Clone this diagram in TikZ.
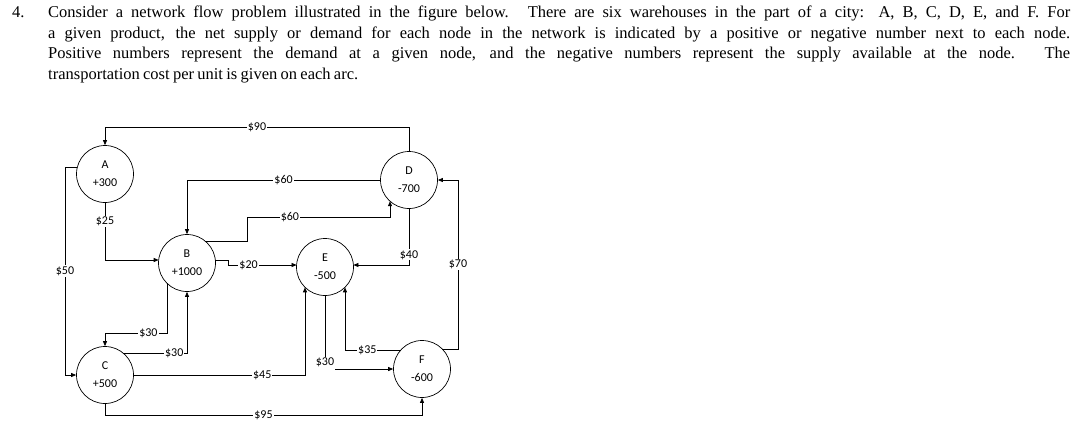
\documentclass[tikz,border=0pt]{standalone}
\usepackage{fontspec}
\setmainfont{Liberation Serif}
\newfontfamily\lab{Carlito}
\usetikzlibrary{arrows.meta}
\begin{document}
\begin{tikzpicture}[x=1pt,y=-1pt,
  nd/.style={circle,draw,line width=0.7pt,minimum size=57pt,inner sep=0pt,align=center,font=\lab\fontsize{12}{18}\selectfont},
  ed/.style={draw,line width=0.7pt,-{Triangle[length=5pt,width=4pt]}},
  lb/.style={fill=white,inner sep=1pt,font=\lab\fontsize{12}{14}\selectfont}]
\useasboundingbox (0,0) rectangle (1086,437);
\node[anchor=north west,inner sep=0pt] (num) at (12,6) {\fontsize{16.5}{20.5}\selectfont 4.};
\node[anchor=north west,inner sep=0pt,text width=1022pt,align=justify] (txt) at (48,6) {\fontsize{16.5}{20.5}\selectfont\spaceskip=0.2em plus 1em minus 0.1em
Consider a network flow problem illustrated in the figure below. There are six warehouses in the part of a city: A, B, C, D, E, and F. For\linebreak
a given product, the net supply or demand for each node in the network is indicated by a positive or negative number next to each node.\linebreak
Positive numbers represent the demand at a given node, and the negative numbers represent the supply available at the node. The\linebreak
transportation cost per unit is given on each arc.\par};
\node[nd] (A) at (105,174) {A\\+300};
\node[nd] (B) at (187,263) {B\\+1000};
\node[nd] (C) at (105,375) {C\\+500};
\node[nd] (D) at (409,180) {D\\-700};
\node[nd] (E) at (325,267) {E\\-500};
\node[nd] (F) at (422,369) {F\\-600};
% D->A 90
\draw[ed] (D.north) -- (409,127) -- node[lb]{\$90} (105,127) -- (A.north);
% A->C 50
\draw[ed] ([shift={(-27.6,-7)}]A.center) -- (65,167) -- node[lb]{\$50} (65,375) -- (C.west);
% A->B 25
\draw[ed] (A.south) -- node[lb,pos=0.33]{\$25} (105,260) -- ([shift={(-28.3,-3)}]B.center);
% D->B 60
\draw[ed] (D.west) -- node[lb]{\$60} (187,180) -- (B.north);
% B->D 60
\draw[ed] ([shift={(18.1,-22)}]B.center) -- (247,241) -- (247,217) -- node[lb,pos=0.3]{\$60} (390,217) -- ([shift={(-19,21.2)}]D.center);
% B->E 20
\draw[ed] ([shift={(28.3,-3)}]B.center) -- (228,260) -- (228,265) -- node[lb,pos=0.3]{\$20} ([shift={(-28.4,-2)}]E.center);
% D->E 40
\draw[ed] (D.south) -- node[lb,pos=0.82]{\$40} (409,265) -- ([shift={(28.4,-2)}]E.center);
% F->D 70
\draw[ed] ([shift={(20.3,-20)}]F.center) -- (458,349) -- node[lb]{\$70} (458,180) -- (D.east);
% B->C 30
\draw[ed] ([shift={(-20,20.3)}]B.center) -- (167,333) -- node[lb,pos=0.3]{\$30} (105,333) -- (C.north);
% C->B 30
\draw[ed] ([shift={(18.1,-22)}]C.center) -- node[lb,pos=0.8]{\$30} (187,353) -- (B.south);
% C->E 45
\draw[ed] (C.east) -- node[lb,pos=0.75]{\$45} (305,375) -- ([shift={(-20,20.3)}]E.center);
% E->F 30
\draw (E.south) -- (325,357) node[lb,anchor=north] (l30) {\$30};
\draw[ed] (l30.east|-0,369) -- (F.west);
% F->E 35
\draw[ed] ([shift={(-21.2,-19)}]F.center) -- node[lb,pos=0.6]{\$35} (345,350) -- ([shift={(20,20.3)}]E.center);
% C->F 95
\draw[ed] (C.south) -- (105,415) -- node[lb]{\$95} (422,415) -- (F.south);
\end{tikzpicture}
\end{document}
